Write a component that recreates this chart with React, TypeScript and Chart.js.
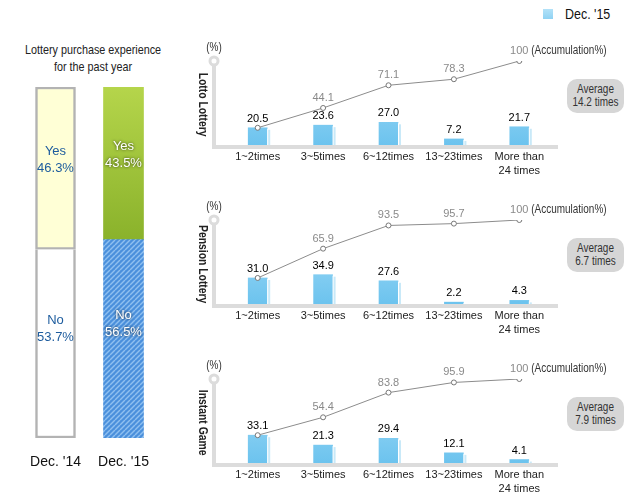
import React, { useEffect, useRef } from 'react';
import { Chart, registerables } from 'chart.js';
Chart.register(...registerables);

const SANS = "'Liberation Sans', Arial, sans-serif";
const SQUEEZE = 0.83;

// ---- data: left panel ----
const years = ["Dec. '14", "Dec. '15"];
const yesPct = [46.3, 43.5];
const noPct = [53.7, 56.5];

// ---- data: right panels ----
const freqLabels = [["1~2times"], ["3~5times"], ["6~12times"], ["13~23times"], ["More than", "24 times"]];
const lottoPct = [20.5, 23.6, 27.0, 7.2, 21.7];
const lottoCum = [20.5, 44.1, 71.1, 78.3, 100];
const pensionPct = [31.0, 34.9, 27.6, 2.2, 4.3];
const pensionCum = [31.0, 65.9, 93.5, 95.7, 100];
const instantPct = [33.1, 21.3, 29.4, 12.1, 4.1];
const instantCum = [33.1, 54.4, 83.8, 95.9, 100];
const panelNames = ['Lotto Lottery', 'Pension Lottery', 'Instant Game'];
const panelAverages = ['14.2 times', '6.7 times', '7.9 times'];

const panels = [
  { name: panelNames[0], share: lottoPct, cum: lottoCum, avg: panelAverages[0] },
  { name: panelNames[1], share: pensionPct, cum: pensionCum, avg: panelAverages[1] },
  { name: panelNames[2], share: instantPct, cum: instantCum, avg: panelAverages[2] },
];
const PANEL_BASE = [145, 304, 463];

const fmt = (v: number) => (v === 100 ? '100' : v.toFixed(1));

function narrowText(ctx: CanvasRenderingContext2D, text: string, x: number, y: number, align: CanvasTextAlign) {
  ctx.save();
  ctx.translate(x, y);
  ctx.scale(SQUEEZE, 1);
  ctx.textAlign = align;
  ctx.fillText(text, 0, 0);
  ctx.restore();
}

const panelDecor = {
  id: 'panelDecor',
  beforeDatasetsDraw(chart: any) {
    const { ctx, chartArea: a } = chart;
    const ax = a.left - 11;
    ctx.save();
    ctx.strokeStyle = '#dcdcdc';
    ctx.lineWidth = 4;
    ctx.beginPath();
    ctx.moveTo(ax, a.top);
    ctx.lineTo(ax, a.bottom + 4);
    ctx.moveTo(ax - 2, a.bottom + 2);
    ctx.lineTo(a.right + 6, a.bottom + 2);
    ctx.stroke();
    ctx.beginPath();
    ctx.arc(ax, a.top, 4, 0, Math.PI * 2);
    ctx.fillStyle = '#fff';
    ctx.fill();
    ctx.lineWidth = 3;
    ctx.stroke();
    ctx.fillStyle = '#333';
    ctx.font = `12px ${SANS}`;
    ctx.textBaseline = 'middle';
    narrowText(ctx, '(%)', ax, a.top - 13, 'center');
    ctx.restore();
  },
  afterDatasetDraw(chart: any, args: any) {
    if (args.meta.type !== 'bar') return;
    const ctx = chart.ctx;
    ctx.save();
    args.meta.data.forEach((el: any) => {
      const { x, y, base, width } = el.getProps(['x', 'y', 'base', 'width'], true);
      const r = x + width / 2;
      ctx.fillStyle = '#ffffff';
      ctx.fillRect(r, y + 1, 1, base - y - 1);
      ctx.fillStyle = '#c9e9f8';
      ctx.fillRect(r + 1, y + 2, 2, base - y - 2);
    });
    ctx.restore();
  },
  afterDatasetsDraw(chart: any) {
    const ctx = chart.ctx;
    ctx.save();
    ctx.textAlign = 'center';
    ctx.textBaseline = 'middle';
    const barMeta = chart.getDatasetMeta(0);
    const lineMeta = chart.getDatasetMeta(1);
    const bars = chart.data.datasets[0].data;
    const cums = chart.data.datasets[1].data;
    ctx.font = `11px ${SANS}`;
    ctx.fillStyle = '#000';
    barMeta.data.forEach((el: any, i: number) => {
      ctx.fillText(fmt(bars[i]), el.x, el.y - 9);
    });
    ctx.fillStyle = '#8a8a8a';
    lineMeta.data.forEach((el: any, i: number) => {
      if (i === 0) return; // first cumulative value equals the first share, labelled once
      ctx.fillText(fmt(cums[i]), el.x, el.y - 10);
    });
    const last = lineMeta.data[lineMeta.data.length - 1];
    ctx.fillStyle = '#333';
    ctx.font = `12px ${SANS}`;
    narrowText(ctx, '(Accumulation%)', last.x + 12, last.y - 10, 'left');
    ctx.restore();
  },
};

function Panel({ p, z }: { p: any; z: number }) {
  const ref = useRef<HTMLCanvasElement>(null);
  useEffect(() => {
    const canvas = ref.current!;
    const barFill = (c: any) => {
      const a = c.chart.chartArea;
      if (!a) return '#8ed1f3';
      const g = c.chart.ctx.createLinearGradient(0, a.top, 0, a.bottom);
      g.addColorStop(0, '#a9def8');
      g.addColorStop(1, '#6cc3ee');
      return g;
    };
    const chart = new Chart(canvas, {
      type: 'bar',
      data: {
        labels: freqLabels as any,
        datasets: [
          { type: 'bar', data: p.share, order: 1, barThickness: 19, backgroundColor: barFill, borderWidth: 0 } as any,
          {
            type: 'line', data: p.cum, order: 0, borderColor: '#8c8c8c', borderWidth: 1, pointRadius: 2.5,
            pointBackgroundColor: '#fff', pointBorderColor: '#777', pointBorderWidth: 1, tension: 0, fill: false,
          } as any,
        ],
      },
      options: {
        responsive: false,
        animation: false,
        layout: { padding: { left: 35, right: 89, top: 31, bottom: 0 } },
        plugins: { legend: { display: false }, tooltip: { enabled: false } },
        scales: {
          x: {
            grid: { display: false, drawTicks: false },
            border: { display: false },
            ticks: { color: '#222', font: { family: SANS, size: 11, lineHeight: 1.27 }, padding: 5, maxRotation: 0, autoSkip: false },
            afterFit: (s: any) => { s.height = 45; },
          },
          y: { display: false, min: 0, max: 100 },
        },
      } as any,
      plugins: [panelDecor],
    });
    return () => chart.destroy();
  }, []);
  return (
    <>
      <canvas ref={ref} width={451} height={160} style={{ position: 'absolute', left: 190, top: z - 115 }} />
      <div style={{
        position: 'absolute', left: 195, top: z - 90, width: 16, height: 100, display: 'flex',
        alignItems: 'center', justifyContent: 'center', writingMode: 'vertical-rl' as any,
        fontFamily: SANS, fontWeight: 'bold', fontSize: 12.5, color: '#222', whiteSpace: 'nowrap',
        transform: `scaleY(${SQUEEZE})`,
      }}>{p.name}</div>
      <div style={{
        position: 'absolute', left: 567, top: z - 66, width: 57, height: 34, borderRadius: 10,
        background: '#d6d6d6', boxSizing: 'border-box', paddingTop: 4, textAlign: 'center',
        fontFamily: SANS, fontSize: 12, lineHeight: '13px', color: '#333', whiteSpace: 'nowrap',
      }}>
        <div style={{ transform: `scaleX(${SQUEEZE})` }}>Average</div>
        <div style={{ transform: `scaleX(${SQUEEZE})` }}>{p.avg}</div>
      </div>
    </>
  );
}

function LeftChart() {
  const ref = useRef<HTMLCanvasElement>(null);
  useEffect(() => {
    const canvas = ref.current!;
    const c2d = canvas.getContext('2d')!;
    const tile = document.createElement('canvas');
    tile.width = 5; tile.height = 5;
    const t = tile.getContext('2d')!;
    t.fillStyle = '#4b90dc';
    t.fillRect(0, 0, 5, 5);
    t.strokeStyle = '#8fc0f0';
    t.lineWidth = 1.4;
    for (const k of [-5, 0, 5]) {
      t.beginPath(); t.moveTo(k, 5); t.lineTo(k + 5, 0); t.stroke();
    }
    const stripes = c2d.createPattern(tile, 'repeat');

    const yesFill = (c: any) => {
      if (c.dataIndex === 0) return '#ffffd6';
      const ch = c.chart;
      if (!ch.chartArea) return '#a3c83c';
      const y = ch.scales.y;
      const g = ch.ctx.createLinearGradient(0, y.getPixelForValue(100), 0, y.getPixelForValue(noPct[1]));
      g.addColorStop(0, '#b5d54b');
      g.addColorStop(1, '#8ab22b');
      return g;
    };

    const labelPlugin = {
      id: 'leftLabels',
      afterDatasetsDraw(chart: any) {
        const ctx = chart.ctx;
        ctx.save();
        ctx.textAlign = 'center';
        ctx.textBaseline = 'middle';
        ctx.font = `13px ${SANS}`;
        [0, 1].forEach((di) => {
          const meta = chart.getDatasetMeta(di);
          meta.data.forEach((el: any, i: number) => {
            const { x, y, base } = el.getProps(['x', 'y', 'base'], true);
            const cy = (y + base) / 2 - (di === 0 ? 15 : 8);
            const name = di === 0 ? 'No' : 'Yes';
            const val = (di === 0 ? noPct : yesPct)[i].toFixed(1) + '%';
            if (i === 0) {
              ctx.fillStyle = '#1d5c9e';
              ctx.shadowColor = 'transparent';
            } else {
              ctx.fillStyle = '#ffffff';
              ctx.shadowColor = 'rgba(0,0,0,0.75)';
              ctx.shadowBlur = 3;
            }
            ctx.fillText(name, x, cy - 8.5);
            ctx.fillText(val, x, cy + 8.5);
          });
        });
        ctx.restore();
      },
    };

    const chart = new Chart(canvas, {
      type: 'bar',
      data: {
        labels: years,
        datasets: [
          {
            label: 'No', data: noPct, backgroundColor: ['#ffffff', stripes], borderColor: ['#b3b3b3', 'rgba(0,0,0,0)'],
            borderWidth: [2.5, 0], borderSkipped: 'top', barThickness: 40,
          } as any,
          {
            label: 'Yes', data: yesPct, backgroundColor: yesFill, borderColor: ['#b3b3b3', 'rgba(0,0,0,0)'],
            borderWidth: [2.5, 0], borderSkipped: false, barThickness: 40,
          } as any,
        ],
      },
      options: {
        responsive: false,
        animation: false,
        layout: { padding: { left: 21.5, right: 32.5, top: 7, bottom: 0 } },
        plugins: { legend: { display: false }, tooltip: { enabled: false } },
        scales: {
          x: {
            stacked: true,
            grid: { display: false, drawTicks: false },
            border: { display: false },
            ticks: { color: '#111', font: { family: SANS, size: 14 }, padding: 16 },
            afterFit: (s: any) => { s.height = 42; },
          },
          y: { stacked: true, display: false, min: 0, max: 100 },
        },
      } as any,
      plugins: [labelPlugin],
    });
    return () => chart.destroy();
  }, []);
  return <canvas ref={ref} width={190} height={400} style={{ position: 'absolute', left: 0, top: 80 }} />;
}

export default function App() {
  return (
    <div style={{ position: 'fixed', left: 0, top: 0, width: 641, height: 502, background: '#fff', overflow: 'hidden' }}>
      <div style={{
        position: 'absolute', left: 0, top: 41, width: 186, textAlign: 'center', fontFamily: SANS,
        fontSize: 13, lineHeight: '17px', color: '#222', whiteSpace: 'nowrap',
        transform: `scaleX(${SQUEEZE})`, transformOrigin: '93px 0',
      }}>
        <div>Lottery purchase experience</div>
        <div>for the past year</div>
      </div>
      <div style={{
        position: 'absolute', left: 543, top: 9, width: 10, height: 10,
        background: 'linear-gradient(#b3e2f8, #8fd2f3)',
      }} />
      <div style={{
        position: 'absolute', left: 565, top: 5, height: 18, lineHeight: '18px', fontFamily: SANS,
        fontSize: 15, color: '#111', whiteSpace: 'nowrap',
        transform: `scaleX(${SQUEEZE})`, transformOrigin: '0 0',
      }}>Dec. '15</div>
      <LeftChart />
      {panels.map((p, i) => <Panel key={i} p={p} z={PANEL_BASE[i]} />)}
    </div>
  );
}
